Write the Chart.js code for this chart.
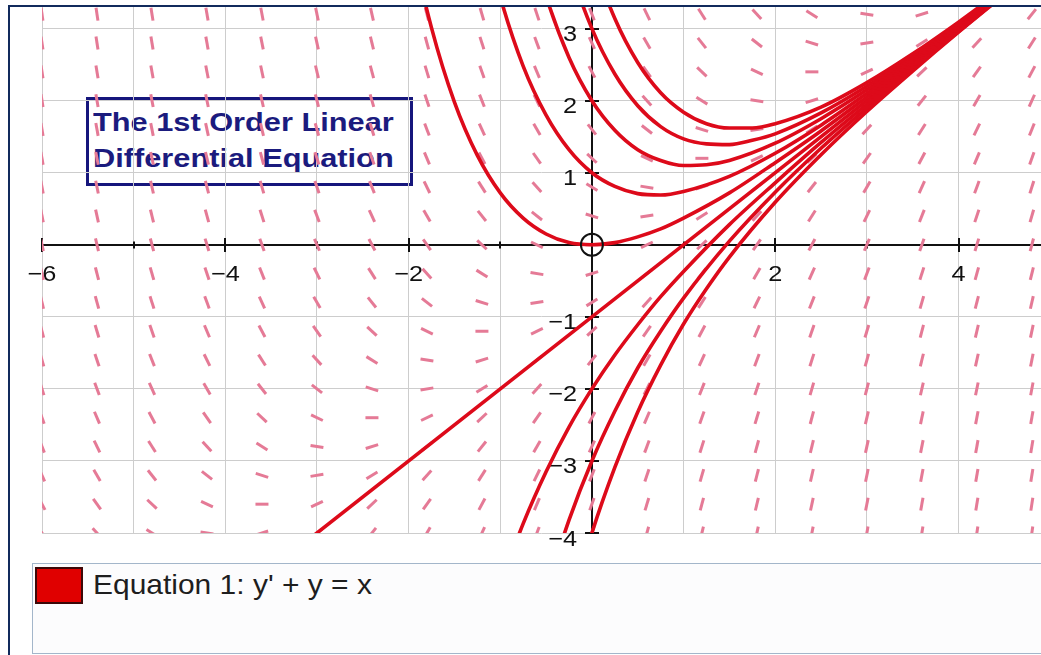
<!DOCTYPE html>
<html>
<head>
<meta charset="utf-8">
<title>y' + y = x</title>
<script src="https://cdn.jsdelivr.net/npm/chart.js@4.4.1/dist/chart.umd.min.js"></script>
<style>
  html, body { margin: 0; padding: 0; background: #fff; }
  body { width: 1041px; height: 655px; position: relative; overflow: hidden; font-family: "Liberation Sans", Arial, sans-serif; }
  #frameTop { position: absolute; left: 8px; right: 0; top: 5px; height: 2px; background: #112a5c; z-index: 3; }
  #frameLeft { position: absolute; left: 8px; top: 5px; bottom: 0; width: 2px; background: #112a5c; z-index: 3; }
  #titleBox {
    position: absolute; left: 86px; top: 97px; width: 327px; height: 89px;
    box-sizing: border-box; border: 3px solid #16167c; background: #fff;
    padding: 4px 0 0 4px; z-index: 0; color: #1b1b7e; font-weight: bold; font-size: 25px;
  }
  #titleBox span { display: block; line-height: 36px; white-space: nowrap; transform: scaleX(1.23); transform-origin: left center; }
  #chart { position: absolute; left: 0; top: 0; z-index: 1; }
  #legendBox {
    position: absolute; left: 32px; top: 563px; width: 1020px; height: 91px;
    box-sizing: border-box; border: 1.5px solid #a3b6ca; background: #fcfcfd; z-index: 2;
  }
  #swatch { position: absolute; left: 2px; top: 3px; width: 48px; height: 37px; box-sizing: border-box; background: #e00000; border: 2px solid #3c0808; }
  #legendText { position: absolute; left: 60px; top: 7px; font-size: 28px; line-height: 28px; color: #1e1e1e; white-space: nowrap; transform: scaleX(1.07); transform-origin: left center; }
</style>
</head>
<body>
<div id="frameTop"></div>
<div id="frameLeft"></div>
<div id="titleBox"><span>The 1st Order Linear</span><span>Differential Equation</span></div>
<canvas id="chart" width="1041" height="655"></canvas>
<div id="legendBox"><div id="swatch"></div><div id="legendText">Equation 1: y' + y = x</div></div>
<script>
// slope field sample positions
const fieldXs = [-6, -5.4, -4.8, -4.2, -3.6, -3, -2.4, -1.8, -1.2, -0.6, 0, 0.6, 1.2, 1.8, 2.4, 3, 3.6, 4.2, 4.8];
const fieldYs = [-4, -3.6, -3.2, -2.8, -2.4, -2, -1.6, -1.2, -0.8, -0.4, 0, 0.4, 0.8, 1.2, 1.6, 2, 2.4, 2.8, 3.2];

// axis labels
const xTickLabels = [-6, -4, -2, 2, 4];
const yTickLabels = [-4, -3, -2, -1, 1, 2, 3];

// solution curves, named by where they cross the y axis
const through4 = [[-0.5, 6.74], [-0.25, 5.17], [0, 4], [0.25, 3.14], [0.5, 2.53], [0.75, 2.11], [1, 1.84], [1.25, 1.68], [1.5, 1.62], [1.75, 1.62], [2, 1.68], [2.5, 1.91], [3, 2.25], [3.5, 2.65], [4, 3.09], [4.5, 3.56]];
const through3 = [[-0.75, 6.72], [-0.5, 5.09], [-0.25, 3.89], [0, 3], [0.25, 2.37], [0.5, 1.93], [0.75, 1.64], [1, 1.47], [1.25, 1.40], [1.5, 1.39], [1.75, 1.45], [2, 1.54], [2.5, 1.83], [3, 2.20], [3.5, 2.62], [4, 3.07], [4.5, 3.54]];
const through2 = [[-1, 6.15], [-0.75, 4.60], [-0.5, 3.45], [-0.25, 2.60], [0, 2], [0.25, 1.59], [0.5, 1.32], [0.75, 1.17], [1, 1.10], [1.25, 1.11], [1.5, 1.17], [2, 1.41], [2.5, 1.75], [3, 2.15], [3.5, 2.59], [4, 3.05], [4.5, 3.53]];
const through1 = [[-1.5, 6.46], [-1.25, 4.73], [-1, 3.44], [-0.75, 2.48], [-0.5, 1.80], [-0.25, 1.32], [0, 1], [0.25, 0.81], [0.5, 0.71], [0.75, 0.69], [1, 0.74], [1.5, 0.95], [2, 1.27], [2.5, 1.66], [3, 2.10], [3.5, 2.56], [4, 3.04], [4.5, 3.52]];
const through0 = [[-2.25, 6.24], [-2, 4.39], [-1.75, 3.01], [-1.5, 1.98], [-1.25, 1.24], [-1, 0.72], [-0.75, 0.37], [-0.5, 0.15], [-0.25, 0.03], [0, 0], [0.25, 0.03], [0.5, 0.11], [0.75, 0.22], [1, 0.37], [1.5, 0.72], [2, 1.14], [2.5, 1.58], [3, 2.05], [3.5, 2.53], [4, 3.02], [4.5, 3.51]];
const throughM1 = [[-3.5, -4.5], [0, -1], [4.5, 3.5]];
const throughM2 = [[-1, -4.72], [-0.75, -3.87], [-0.5, -3.15], [-0.25, -2.53], [0, -2], [0.25, -1.53], [0.5, -1.11], [0.75, -0.72], [1, -0.37], [1.5, 0.28], [2, 0.86], [2.5, 1.42], [3, 1.95], [3.5, 2.47], [4, 2.98], [4.5, 3.49]];
const throughM3 = [[-0.5, -4.80], [-0.25, -3.82], [0, -3], [0.25, -2.31], [0.5, -1.71], [0.75, -1.20], [1, -0.74], [1.5, 0.05], [2, 0.73], [2.5, 1.34], [3, 1.90], [3.5, 2.44], [4, 2.96], [4.5, 3.48]];
const throughM4 = [[-0.25, -5.10], [0, -4], [0.25, -3.09], [0.5, -2.32], [0.75, -1.67], [1, -1.10], [1.25, -0.61], [1.5, -0.17], [2, 0.59], [2.5, 1.25], [3, 1.85], [3.5, 2.41], [4, 2.95], [4.5, 3.47]];

const solutions = [through4, through3, through2, through1, through0, throughM1, throughM2, throughM3, throughM4];

// y' = x - y  (from y' + y = x)
function slopeAt(x, y) {
    return x - y;
}

const fieldPoints = [];
fieldXs.forEach(x => {
    fieldYs.forEach(y => {
        fieldPoints.push({ x: x, y: y, m: slopeAt(x, y) });
    });
});

const curveColor = '#dd0a1a';
const fieldColor = '#e57a96';
const labelFont = '22px "Liberation Sans", Arial, sans-serif';

// angle of a slope segment in canvas pixels
function segmentAngle(ctx) {
    const p = ctx.raw;
    if (!p) return 0;
    const xs = ctx.chart.scales.x, ys = ctx.chart.scales.y;
    const kx = xs.getPixelForValue(1) - xs.getPixelForValue(0);
    const ky = ys.getPixelForValue(0) - ys.getPixelForValue(1);
    return Math.atan(-p.m * ky / kx) * 180 / Math.PI;
}

function stretchedText(c, text, x, y, align, sx) {
    c.save();
    c.translate(x, y);
    c.scale(sx, 1);
    c.textAlign = align;
    c.fillText(text, 0, 0);
    c.restore();
}

// axes, ticks and numbers in the middle of the plane
const axesPlugin = {
    id: 'axesPlugin',
    beforeDatasetsDraw(chart) {
        const c = chart.ctx;
        const area = chart.chartArea;
        const xs = chart.scales.x, ys = chart.scales.y;
        const x0 = Math.round(xs.getPixelForValue(0));
        const y0 = Math.round(ys.getPixelForValue(0));
        c.save();
        c.strokeStyle = '#111';
        c.lineWidth = 2;
        c.beginPath();
        c.moveTo(area.left, y0);
        c.lineTo(area.right, y0);
        c.moveTo(x0, area.top);
        c.lineTo(x0, area.bottom);
        for (let v = -6; v <= 4; v++) {
            if (v === 0) continue;
            const px = Math.round(xs.getPixelForValue(v));
            const len = v % 2 === 0 ? 7 : 3.5;
            c.moveTo(px, y0 - len);
            c.lineTo(px, y0 + len);
        }
        for (let v = -4; v <= 3; v++) {
            if (v === 0) continue;
            const py = Math.round(ys.getPixelForValue(v));
            c.moveTo(x0 - 7, py);
            c.lineTo(x0 + 7, py);
        }
        c.stroke();

        c.fillStyle = '#111';
        c.font = labelFont;
        c.textBaseline = 'alphabetic';
        xTickLabels.forEach(v => {
            const px = xs.getPixelForValue(v);
            const txt = v < 0 ? '\u2212' + Math.abs(v) : String(v);
            stretchedText(c, txt, px, y0 + 36, 'center', 1.15);
        });
        yTickLabels.forEach(v => {
            const py = ys.getPixelForValue(v);
            const txt = v < 0 ? '\u2212' + Math.abs(v) : String(v);
            stretchedText(c, txt, x0 - 15, py + 12.5, 'right', 1.15);
        });
        c.restore();
    }
};

const datasets = [];

// point at the origin
datasets.push({
    data: [{ x: 0, y: 0 }],
    showLine: false,
    pointStyle: 'circle',
    pointRadius: 11,
    pointBorderWidth: 2,
    pointBorderColor: '#111',
    pointBackgroundColor: 'rgba(0,0,0,0)',
    clip: false
});

solutions.forEach(curve => {
    datasets.push({
        data: curve.map(p => ({ x: p[0], y: p[1] })),
        showLine: true,
        borderColor: curveColor,
        borderWidth: 3.6,
        pointRadius: 0,
        cubicInterpolationMode: 'monotone',
        clip: 0
    });
});

datasets.push({
    data: fieldPoints,
    showLine: false,
    pointStyle: 'line',
    pointRadius: 6.5,
    pointBorderWidth: 3,
    pointBorderColor: fieldColor,
    pointBackgroundColor: fieldColor,
    rotation: segmentAngle,
    clip: 0
});

const ctx = document.getElementById('chart').getContext('2d');
const chart = new Chart(ctx, {
    type: 'scatter',
    data: { datasets: datasets },
    options: {
        responsive: false,
        animation: false,
        events: [],
        layout: { autoPadding: false, padding: { left: 42, top: 7, right: 0, bottom: 122 } },
        plugins: {
            legend: { display: false },
            tooltip: { enabled: false }
        },
        scales: {
            x: {
                type: 'linear',
                min: -6,
                max: 4.9,
                ticks: { display: false, stepSize: 1, includeBounds: false },
                grid: { color: '#cdcdcd', lineWidth: 1, drawTicks: false },
                border: { display: false }
            },
            y: {
                type: 'linear',
                min: -4,
                max: 3.3,
                ticks: { display: false, stepSize: 1, includeBounds: false },
                grid: { color: '#cdcdcd', lineWidth: 1, drawTicks: false },
                border: { display: false }
            }
        }
    },
    plugins: [axesPlugin]
});
</script>
</body>
</html>
